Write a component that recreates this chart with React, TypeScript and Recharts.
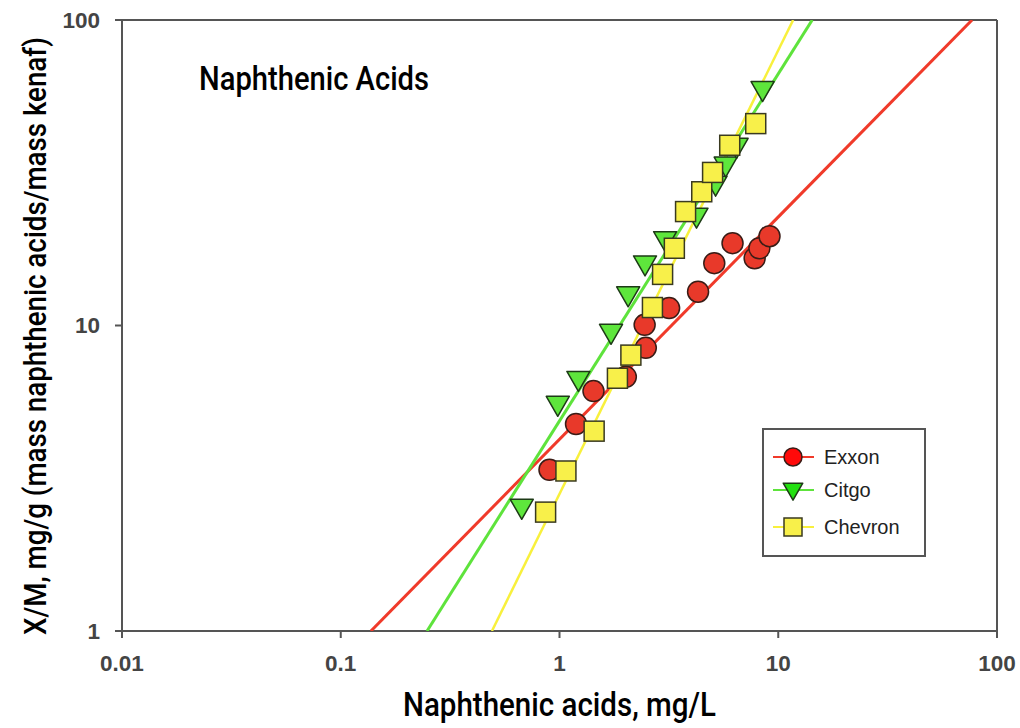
import { ReferenceLine, Scatter, ScatterChart, XAxis, YAxis } from "recharts";

const exxonX = [0.9, 1.19, 1.43, 2.01, 2.48, 2.45, 3.17, 4.3, 5.1, 6.18, 7.8, 8.2, 9.12];
const exxonY = [3.37, 4.76, 6.1, 6.79, 8.45, 10.05, 11.4, 12.9, 16.0, 18.6, 16.6, 17.9, 19.6];

const citgoX = [0.672, 0.982, 1.22, 1.72, 2.06, 2.46, 3.04, 4.23, 5.17, 5.75, 6.45, 8.48];
const citgoY = [2.54, 5.52, 6.66, 9.5, 12.6, 15.9, 19.1, 22.8, 29.0, 33.5, 38.6, 59.2];

const chevronX = [0.864, 1.07, 1.44, 1.84, 2.12, 2.66, 2.96, 3.35, 3.77, 4.47, 5.01, 6.0, 7.89];
const chevronY = [2.45, 3.34, 4.51, 6.72, 8.0, 11.45, 14.7, 17.9, 23.6, 27.4, 31.7, 38.9, 45.8];

// Freundlich fit lines (end points where they leave the plot)
const exxonFitX = [0.1374, 76.9];
const citgoFitX = [0.248, 14.3];
const chevronFitX = [0.491, 11.7];
const fitY = [1, 100];

const xTicks = [0.01, 0.1, 1, 10, 100];
const yTicks = [1, 10, 100];

const toPoints = (xs: number[], ys: number[]) => xs.map((x, i) => ({ x, y: ys[i] }));

const narrow = "Roboto, 'Liberation Sans', sans-serif";
const arial = "'Liberation Sans', Arial, sans-serif";
const axisGrey = "#555555";

const colors = {
  exxon: { line: "#f03a2a", fill: "#e8392a", legend: "#ff0a0a" },
  citgo: { line: "#5ee33c", fill: "#5ee63c", legend: "#22e010" },
  chevron: { line: "#f8f03c", fill: "#f8f04a", legend: "#f8f04a" },
};

function CircleMark({ cx, cy, fill, r = 10.5 }: any) {
  return <circle cx={cx} cy={cy} r={r} fill={fill} stroke="#3a1c16" strokeWidth={1.5} />;
}

function TriangleMark({ cx, cy, fill, s = 1 }: any) {
  const w = 11.5 * s;
  const top = 8 * s;
  const bot = 12 * s;
  return (
    <polygon
      points={`${cx - w},${cy - top} ${cx + w},${cy - top} ${cx},${cy + bot}`}
      fill={fill}
      stroke="#1d3a16"
      strokeWidth={1.5}
      strokeLinejoin="round"
    />
  );
}

function SquareMark({ cx, cy, fill, h = 10 }: any) {
  return (
    <rect x={cx - h} y={cy - h} width={h * 2} height={h * 2} fill={fill} stroke="#3a3a20" strokeWidth={1.5} />
  );
}

const noMark = () => <g />;

function LegendBox() {
  const rows = [
    { name: "Exxon", c: colors.exxon, mark: (cx: number, cy: number) => <CircleMark cx={cx} cy={cy} r={9} fill={colors.exxon.legend} /> },
    { name: "Citgo", c: colors.citgo, mark: (cx: number, cy: number) => <TriangleMark cx={cx} cy={cy} s={0.85} fill={colors.citgo.legend} /> },
    { name: "Chevron", c: colors.chevron, mark: (cx: number, cy: number) => <SquareMark cx={cx} cy={cy} h={9} fill={colors.chevron.legend} /> },
  ];
  return (
    <svg width={164} height={129} style={{ display: "block" }}>
      <rect x={1} y={1} width={162} height={127} fill="#ffffff" stroke={axisGrey} strokeWidth={2} />
      {rows.map((row, i) => {
        const cy = 29 + [0, 33, 70][i];
        return (
          <g key={row.name}>
            <line x1={11} x2={52} y1={cy} y2={cy} stroke={row.c.line} strokeWidth={2} />
            {row.mark(31, cy)}
            <text x={62} y={cy + 7} fontFamily={arial} fontSize={20} fill="#222">
              {row.name}
            </text>
          </g>
        );
      })}
    </svg>
  );
}

export default function App() {
  const tickStyle = { fill: "#444", fontSize: 22.5, fontWeight: 700, fontFamily: arial };

  return (
    <div style={{ position: "absolute", left: 0, top: 0, width: 1020, height: 728, background: "#fff" }}>
      <ScatterChart width={1020} height={728} margin={{ top: 20, right: 23, bottom: 0, left: 0 }}>
        <XAxis
          type="number"
          dataKey="x"
          scale="log"
          domain={[0.01, 100]}
          ticks={xTicks}
          allowDataOverflow
          height={97}
          tickSize={7}
          tickMargin={17}
          stroke={axisGrey}
          strokeWidth={2}
          tick={tickStyle}
          label={{
            content: ({ viewBox }: any) => (
              <text
                x={viewBox.x + viewBox.width / 2}
                y={716}
                textAnchor="middle"
                textLength={313}
                lengthAdjust="spacingAndGlyphs"
                fontFamily={narrow}
                fontWeight={500}
                fontSize={34}
                fill="#000"
              >
                Naphthenic acids, mg/L
              </text>
            ),
          }}
        />
        <YAxis
          type="number"
          dataKey="y"
          scale="log"
          domain={[1, 100]}
          ticks={yTicks}
          allowDataOverflow
          width={122}
          tickSize={7}
          tickMargin={15}
          stroke={axisGrey}
          strokeWidth={2}
          tick={tickStyle}
          label={{
            content: () => (
              <text
                x={46}
                y={336}
                transform="rotate(-90, 46, 336)"
                textAnchor="middle"
                textLength={598}
                lengthAdjust="spacingAndGlyphs"
                fontFamily={narrow}
                fontWeight={500}
                fontSize={31}
                fill="#000"
              >
                X/M, mg/g (mass naphthenic acids/mass kenaf)
              </text>
            ),
          }}
        />
        <ReferenceLine y={100} stroke={axisGrey} strokeWidth={2} />
        <ReferenceLine x={100} stroke={axisGrey} strokeWidth={2} />

        <Scatter
          data={toPoints(exxonFitX, fitY)}
          line={{ stroke: colors.exxon.line, strokeWidth: 3 }}
          shape={noMark}
          legendType="none"
          isAnimationActive={false}
        />
        <Scatter
          data={toPoints(citgoFitX, fitY)}
          line={{ stroke: colors.citgo.line, strokeWidth: 3 }}
          shape={noMark}
          legendType="none"
          isAnimationActive={false}
        />
        <Scatter
          data={toPoints(chevronFitX, fitY)}
          line={{ stroke: colors.chevron.line, strokeWidth: 2.5 }}
          shape={noMark}
          legendType="none"
          isAnimationActive={false}
        />

        <Scatter
          name="Exxon"
          data={toPoints(exxonX, exxonY)}
          shape={(p: any) => <CircleMark cx={p.cx} cy={p.cy} fill={colors.exxon.fill} />}
          isAnimationActive={false}
        />
        <Scatter
          name="Citgo"
          data={toPoints(citgoX, citgoY)}
          shape={(p: any) => <TriangleMark cx={p.cx} cy={p.cy} fill={colors.citgo.fill} />}
          isAnimationActive={false}
        />
        <Scatter
          name="Chevron"
          data={toPoints(chevronX, chevronY)}
          shape={(p: any) => <SquareMark cx={p.cx} cy={p.cy} fill={colors.chevron.fill} />}
          isAnimationActive={false}
        />

        <text
          x={199}
          y={90}
          textLength={230}
          lengthAdjust="spacingAndGlyphs"
          fontFamily={narrow}
          fontWeight={500}
          fontSize={34}
          fill="#000"
        >
          Naphthenic Acids
        </text>
      </ScatterChart>
      <div style={{ position: "absolute", left: 762, top: 428 }}>
        <LegendBox />
      </div>
    </div>
  );
}
